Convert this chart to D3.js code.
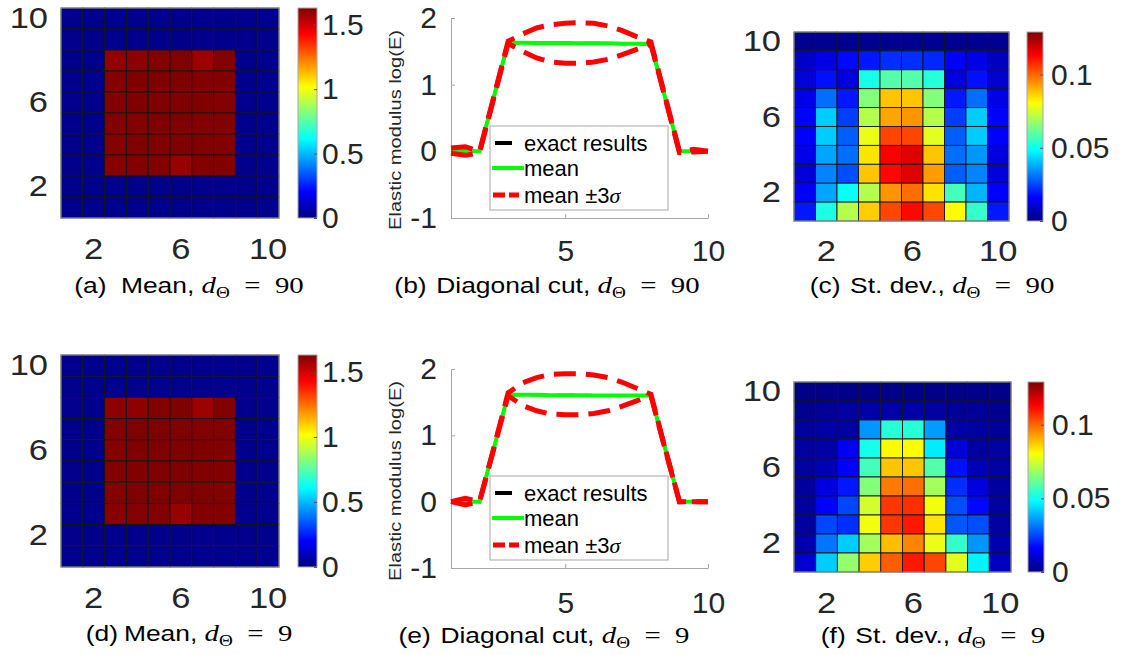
<!DOCTYPE html>
<html>
<head>
<meta charset="utf-8">
<script src="https://cdn.jsdelivr.net/npm/d3@7"></script>
<style>
  body { margin: 0; background: #fff; }
  svg { display: block; }
</style>
</head>
<body>
<div id="chart"></div>
<script>
// grid coordinates, rows listed top (10) to bottom (1)
const cols = [1, 2, 3, 4, 5, 6, 7, 8, 9, 10];
const rows = [10, 9, 8, 7, 6, 5, 4, 3, 2, 1];
const heatTicks = [2, 6, 10];
const meanBarTicks = [0, 0.5, 1, 1.5];
const stdBarTicks = [0, 0.05, 0.1];
const cutTicksX = [5, 10];
const cutTicksY = [-1, 0, 1, 2];

const meanA = [
	[0.02, 0.02, 0.02, 0.02, 0.02, 0.02, 0.02, 0.02, 0.02, 0.02],
	[0.02, 0.02, 0.02, 0.02, 0.02, 0.02, 0.02, 0.02, 0.02, 0.02],
	[0.02, 0.02, 1.605, 1.61, 1.625, 1.63, 1.585, 1.625, 0.02, 0.02],
	[0.02, 0.02, 1.625, 1.63, 1.63, 1.63, 1.625, 1.625, 0.02, 0.02],
	[0.02, 0.02, 1.625, 1.63, 1.63, 1.63, 1.63, 1.625, 0.02, 0.02],
	[0.02, 0.02, 1.625, 1.625, 1.63, 1.63, 1.625, 1.625, 0.02, 0.02],
	[0.02, 0.02, 1.625, 1.63, 1.63, 1.63, 1.63, 1.625, 0.02, 0.02],
	[0.02, 0.02, 1.62, 1.625, 1.625, 1.59, 1.625, 1.625, 0.02, 0.02],
	[0.02, 0.02, 0.02, 0.02, 0.02, 0.02, 0.02, 0.02, 0.02, 0.02],
	[0.02, 0.02, 0.02, 0.02, 0.02, 0.02, 0.02, 0.02, 0.02, 0.02],
];

const meanD = [
	[0.02, 0.02, 0.02, 0.02, 0.02, 0.02, 0.02, 0.02, 0.02, 0.02],
	[0.02, 0.02, 0.02, 0.02, 0.02, 0.02, 0.02, 0.02, 0.02, 0.02],
	[0.02, 0.02, 1.61, 1.605, 1.625, 1.63, 1.585, 1.625, 0.02, 0.02],
	[0.02, 0.02, 1.625, 1.63, 1.63, 1.63, 1.625, 1.625, 0.02, 0.02],
	[0.02, 0.02, 1.625, 1.63, 1.63, 1.63, 1.63, 1.625, 0.02, 0.02],
	[0.02, 0.02, 1.625, 1.625, 1.63, 1.63, 1.625, 1.625, 0.02, 0.02],
	[0.02, 0.02, 1.625, 1.63, 1.63, 1.63, 1.63, 1.625, 0.02, 0.02],
	[0.02, 0.02, 1.62, 1.625, 1.625, 1.59, 1.625, 1.625, 0.02, 0.02],
	[0.02, 0.02, 0.02, 0.02, 0.02, 0.02, 0.02, 0.02, 0.02, 0.02],
	[0.02, 0.02, 0.02, 0.02, 0.02, 0.02, 0.02, 0.02, 0.02, 0.02],
];

const stdC = [
	[0.002, 0.002, 0.002, 0.002, 0.002, 0.002, 0.002, 0.002, 0.002, 0.002],
	[0.009, 0.013, 0.017, 0.019, 0.022, 0.022, 0.021, 0.016, 0.013, 0.008],
	[0.011, 0.018, 0.012, 0.051, 0.059, 0.059, 0.053, 0.012, 0.018, 0.010],
	[0.013, 0.030, 0.019, 0.065, 0.088, 0.088, 0.065, 0.019, 0.030, 0.013],
	[0.016, 0.042, 0.024, 0.071, 0.092, 0.094, 0.071, 0.024, 0.042, 0.016],
	[0.016, 0.042, 0.028, 0.078, 0.104, 0.104, 0.077, 0.028, 0.042, 0.016],
	[0.013, 0.037, 0.030, 0.084, 0.114, 0.117, 0.088, 0.030, 0.035, 0.012],
	[0.011, 0.033, 0.026, 0.088, 0.112, 0.117, 0.093, 0.028, 0.033, 0.011],
	[0.015, 0.037, 0.049, 0.071, 0.094, 0.099, 0.084, 0.057, 0.039, 0.016],
	[0.019, 0.052, 0.071, 0.087, 0.104, 0.112, 0.104, 0.081, 0.055, 0.019],
];

const stdF = [
	[0.001, 0.001, 0.001, 0.001, 0.001, 0.001, 0.001, 0.001, 0.001, 0.001],
	[0.002, 0.003, 0.004, 0.005, 0.005, 0.005, 0.004, 0.003, 0.003, 0.002],
	[0.004, 0.005, 0.004, 0.035, 0.053, 0.053, 0.036, 0.005, 0.004, 0.003],
	[0.004, 0.005, 0.015, 0.051, 0.081, 0.081, 0.046, 0.011, 0.004, 0.004],
	[0.004, 0.007, 0.016, 0.057, 0.088, 0.088, 0.059, 0.018, 0.007, 0.004],
	[0.004, 0.012, 0.019, 0.065, 0.0975, 0.099, 0.069, 0.022, 0.012, 0.004],
	[0.004, 0.016, 0.025, 0.075, 0.106, 0.107, 0.079, 0.026, 0.017, 0.004],
	[0.004, 0.025, 0.022, 0.079, 0.106, 0.110, 0.084, 0.027, 0.026, 0.004],
	[0.006, 0.031, 0.042, 0.069, 0.089, 0.096, 0.078, 0.055, 0.035, 0.006],
	[0.010, 0.042, 0.067, 0.087, 0.101, 0.110, 0.104, 0.077, 0.047, 0.008],
];

// diagonal cut, sampled at half steps
const cutX = [1, 1.5, 2, 2.5, 3, 3.5, 4, 4.5, 5, 5.5, 6, 6.5, 7, 7.5, 8, 8.5, 9, 9.5, 10];
const exactCutB = [0, 0, 0, 0.815, 1.63, 1.63, 1.625, 1.625, 1.625, 1.62, 1.62, 1.62, 1.615, 1.615, 1.61, 0.805, 0, 0, 0];
const meanCutB = [0, 0, 0, 0.815, 1.63, 1.63, 1.625, 1.625, 1.625, 1.62, 1.62, 1.62, 1.615, 1.615, 1.61, 0.805, 0, 0, 0];
const upperCutB = [0.05, 0.07, 0.0, 0.82, 1.65, 1.76, 1.85, 1.9, 1.92, 1.93, 1.92, 1.88, 1.81, 1.72, 1.64, 0.82, 0.0, 0.03, 0.0];
const lowerCutB = [-0.03, -0.06, -0.02, 0.8, 1.62, 1.5, 1.4, 1.34, 1.32, 1.32, 1.34, 1.38, 1.45, 1.53, 1.61, 0.8, -0.02, -0.01, 0.0];
const exactCutE = [0, 0, 0, 0.805, 1.61, 1.61, 1.61, 1.605, 1.605, 1.605, 1.6, 1.6, 1.6, 1.6, 1.6, 0.8, 0, 0, 0];
const meanCutE = [0, 0, 0, 0.805, 1.61, 1.61, 1.61, 1.605, 1.605, 1.605, 1.6, 1.6, 1.6, 1.6, 1.6, 0.8, 0, 0, 0];
const upperCutE = [0.0, 0.05, 0.0, 0.81, 1.64, 1.79, 1.87, 1.92, 1.93, 1.93, 1.91, 1.87, 1.8, 1.71, 1.62, 0.8, 0, 0, 0];
const lowerCutE = [0.0, -0.05, 0.0, 0.8, 1.6, 1.45, 1.37, 1.32, 1.31, 1.31, 1.33, 1.37, 1.44, 1.52, 1.6, 0.79, 0, 0, 0];

// MATLAB jet
const jetStops = [0, 0.125, 0.375, 0.625, 0.875, 1];
const jetColors = ["#000080", "#0000ff", "#00ffff", "#ffff00", "#ff0000", "#800000"];

const SANS = "'Liberation Sans', Arial, sans-serif";
const SERIF = "'Liberation Serif', 'DejaVu Serif', serif";
const TXT = "#262626";
const AXIS = "#a6a6a6";

const svg = d3
	.select("#chart")
	.append("svg")
	.attr("width", 1122)
	.attr("height", 655);

const grad = svg
	.append("defs")
	.append("linearGradient")
	.attr("id", "jet")
	.attr("x1", 0)
	.attr("y1", 1)
	.attr("x2", 0)
	.attr("y2", 0);
grad
	.selectAll("stop")
	.data(jetStops)
	.join("stop")
	.attr("offset", (d) => d)
	.attr("stop-color", (d, i) => jetColors[i]);

function styleTicks(g, size) {
	g.selectAll("text")
		.attr("fill", TXT)
		.style("font-family", SANS)
		.style("font-size", size + "px");
}

// the heatmap tick labels in the figure are a bit wider than the font
function widen(g, k) {
	g.selectAll("text").each(function () {
		const w = this.getComputedTextLength();
		d3.select(this).attr("textLength", w * k).attr("lengthAdjust", "spacingAndGlyphs");
	});
}

function heatmap(grid, p) {
	const x = d3.scaleBand().domain(cols).range([p.x0, p.x1]);
	const y = d3.scaleBand().domain(rows).range([p.y0, p.y1]);
	const color = d3
		.scaleLinear()
		.domain(jetStops.map((s) => s * p.cmax))
		.range(jetColors)
		.clamp(true);

	const cells = grid.flatMap((r, i) =>
		r.map((v, j) => ({ row: rows[i], col: cols[j], v: v }))
	);

	svg
		.append("g")
		.selectAll("rect")
		.data(cells)
		.join("rect")
		.attr("x", (d) => x(d.col))
		.attr("y", (d) => y(d.row))
		.attr("width", x.bandwidth())
		.attr("height", y.bandwidth())
		.attr("fill", (d) => color(d.v))
		.attr("stroke", "#141414")
		.attr("stroke-width", 0.9);

	svg
		.append("rect")
		.attr("x", p.x0)
		.attr("y", p.y0)
		.attr("width", p.x1 - p.x0)
		.attr("height", p.y1 - p.y0)
		.attr("fill", "none")
		.attr("stroke", AXIS)
		.attr("stroke-width", 1);

	const yAx = svg
		.append("g")
		.attr("transform", "translate(" + p.x0 + ",0)")
		.call(d3.axisLeft(y).tickValues(heatTicks).tickSize(0).tickPadding(13));
	yAx.select(".domain").remove();
	styleTicks(yAx, 30);
	widen(yAx, 1.15);

	const xAx = svg
		.append("g")
		.attr("transform", "translate(0," + p.xLabelY + ")")
		.call(d3.axisBottom(x).tickValues(heatTicks).tickSize(0).tickPadding(0));
	xAx.select(".domain").remove();
	xAx.selectAll("text").attr("y", 0).attr("dy", "0.35em");
	styleTicks(xAx, 30);
	widen(xAx, 1.15);

	// colorbar
	const cbY = d3.scaleLinear().domain([0, p.cmax]).range([p.y1, p.y0]);
	svg
		.append("rect")
		.attr("x", p.cb0)
		.attr("y", p.y0)
		.attr("width", p.cb1 - p.cb0)
		.attr("height", p.y1 - p.y0)
		.attr("fill", "url(#jet)")
		.attr("stroke", AXIS)
		.attr("stroke-width", 1);

	const cbAx = svg
		.append("g")
		.attr("transform", "translate(" + p.cb1 + ",0)")
		.call(
			d3
				.axisRight(cbY)
				.tickValues(p.cbTicks)
				.tickSizeInner(-3)
				.tickSizeOuter(0)
				.tickPadding(p.cbPad)
				.tickFormat((d) => String(d))
		);
	cbAx.select(".domain").remove();
	cbAx.selectAll("line").attr("stroke", "#555");
	styleTicks(cbAx, 30);
}

function cutPlot(exactV, meanV, upperV, lowerV, p) {
	const x = d3.scaleLinear().domain([1, 10]).range([451, 708]);
	const y = d3.scaleLinear().domain([-1, 2]).range([p.y1, p.y0]);

	const yAx = svg
		.append("g")
		.attr("transform", "translate(451,0)")
		.call(
			d3
				.axisLeft(y)
				.tickValues(cutTicksY)
				.tickSizeInner(-4)
				.tickSizeOuter(0)
				.tickPadding(14)
				.tickFormat((d) => String(d))
		);
	yAx.selectAll(".domain, line").attr("stroke", AXIS);
	styleTicks(yAx, 30);

	const xAx = svg
		.append("g")
		.attr("transform", "translate(0," + p.y1 + ")")
		.call(
			d3
				.axisBottom(x)
				.tickValues(cutTicksX)
				.tickSizeInner(-4)
				.tickSizeOuter(0)
				.tickFormat((d) => String(d))
		);
	xAx.selectAll(".domain, line").attr("stroke", AXIS);
	xAx.selectAll("text").attr("y", p.xLabelOff).attr("dy", "0.35em");
	styleTicks(xAx, 30);

	const line = d3
		.line()
		.x((d, i) => x(cutX[i]))
		.y((d) => y(d));

	svg
		.append("path")
		.attr("d", line(exactV))
		.attr("fill", "none")
		.attr("stroke", "#000")
		.attr("stroke-width", 3)
		.attr("stroke-dasharray", "17,10");
	svg
		.append("path")
		.attr("d", line(meanV))
		.attr("fill", "none")
		.attr("stroke", "#00ff00")
		.attr("stroke-width", 4);
	[upperV, lowerV].forEach((s) => {
		svg
			.append("path")
			.attr("d", line(s))
			.attr("fill", "none")
			.attr("stroke", "#ff0000")
			.attr("stroke-width", 5)
			.attr("stroke-dasharray", "22,10");
	});

	// legend
	const lg = svg.append("g");
	lg.append("rect")
		.attr("x", 490)
		.attr("y", p.lgY)
		.attr("width", 178)
		.attr("height", 84)
		.attr("fill", "#fff")
		.attr("stroke", AXIS)
		.attr("stroke-width", 1);
	const rowsY = [p.lgY + 17, p.lgY + 42, p.lgY + 69];
	lg.append("line")
		.attr("x1", 495).attr("x2", 512)
		.attr("y1", rowsY[0]).attr("y2", rowsY[0])
		.attr("stroke", "#000").attr("stroke-width", 4);
	lg.append("line")
		.attr("x1", 492).attr("x2", 524)
		.attr("y1", rowsY[1]).attr("y2", rowsY[1])
		.attr("stroke", "#00ff00").attr("stroke-width", 4);
	lg.append("line")
		.attr("x1", 493).attr("x2", 519)
		.attr("y1", rowsY[2]).attr("y2", rowsY[2])
		.attr("stroke", "#ff0000").attr("stroke-width", 5)
		.attr("stroke-dasharray", "12,4");

	const lt = lg
		.selectAll("text.lg")
		.data(rowsY)
		.join("text")
		.attr("class", "lg")
		.attr("x", 524)
		.attr("y", (d) => d)
		.attr("dy", "0.35em")
		.attr("fill", "#000")
		.style("font-family", SANS)
		.style("font-size", "22px");
	lt.filter((d, i) => i === 0).text("exact results");
	lt.filter((d, i) => i === 1).text("mean");
	const last = lt.filter((d, i) => i === 2);
	last.append("tspan").text("mean ±3");
	last.append("tspan").style("font-family", SERIF).style("font-style", "italic").text("σ");

	// y label
	svg
		.append("text")
		.attr("transform", "translate(395," + p.labelY + ") rotate(-90)")
		.attr("text-anchor", "middle")
		.attr("dy", "0.35em")
		.attr("fill", TXT)
		.attr("textLength", 200)
		.attr("lengthAdjust", "spacingAndGlyphs")
		.style("font-family", SANS)
		.style("font-size", "17px")
		.text("Elastic modulus log(E)");
}

// subcaptions are set wider than the plain font, so stretch them horizontally
function caption(cx, cy, letter, name, dval, gap) {
	const t = svg
		.append("text")
		.attr("transform", "translate(" + cx + "," + cy + ") scale(1.2,1)")
		.attr("text-anchor", "middle")
		.attr("fill", "#000")
		.style("font-family", SANS)
		.style("font-size", "22px");
	t.append("tspan").text("(" + letter + ")");
	t.append("tspan").attr("dx", gap).text(name + ", ");
	t.append("tspan").style("font-family", SERIF).style("font-style", "italic").style("font-size", "24px").text("d");
	t.append("tspan").style("font-family", SERIF).style("font-size", "16px").attr("dy", 5).text("Θ");
	t.append("tspan").style("font-family", SERIF).style("font-size", "24px").attr("dy", -5).text("\u2002=\u2002" + dval);
}

heatmap(meanA, { x0: 61, x1: 279, y0: 8, y1: 218, cb0: 298, cb1: 317, cmax: 1.63, cbTicks: meanBarTicks, cbPad: 5, xLabelY: 248 });
heatmap(meanD, { x0: 61, x1: 279, y0: 355, y1: 567, cb0: 298, cb1: 317, cmax: 1.63, cbTicks: meanBarTicks, cbPad: 5, xLabelY: 597 });
heatmap(stdC, { x0: 794, x1: 1009, y0: 32, y1: 221, cb0: 1027, cb1: 1043, cmax: 0.129, cbTicks: stdBarTicks, cbPad: 8, xLabelY: 250 });
heatmap(stdF, { x0: 794, x1: 1011, y0: 382, y1: 572, cb0: 1028, cb1: 1044, cmax: 0.129, cbTicks: stdBarTicks, cbPad: 8, xLabelY: 602 });

cutPlot(exactCutB, meanCutB, upperCutB, lowerCutB, { y0: 18, y1: 218, xLabelOff: 32, lgY: 126, labelY: 130 });
cutPlot(exactCutE, meanCutE, upperCutE, lowerCutE, { y0: 369, y1: 568, xLabelOff: 34, lgY: 476, labelY: 481 });

caption(189, 293, "a", "Mean", "90", 12);
caption(547, 293, "b", "Diagonal cut", "90", 8);
caption(932, 293, "c", "St. dev.", "90", 8);
caption(189, 641, "d", "Mean", "9", 5);
caption(544, 643, "e", "Diagonal cut", "9", 8);
caption(933, 643, "f", "St. dev.", "9", 8);
</script>
</body>
</html>
